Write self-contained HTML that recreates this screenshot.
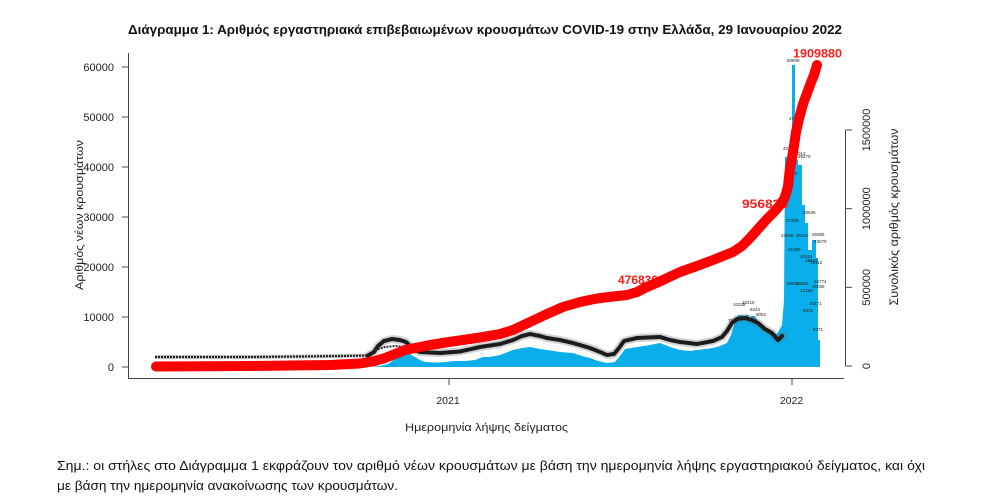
<!DOCTYPE html>
<html>
<head>
<meta charset="utf-8">
<style>
  html, body { margin: 0; padding: 0; background: #ffffff; }
  body { width: 982px; height: 504px; overflow: hidden; }
  svg { display: block; }
  text { font-family: "Liberation Sans", "DejaVu Sans", sans-serif; }
</style>
</head>
<body>
<svg width="982" height="504" viewBox="0 0 982 504" xmlns="http://www.w3.org/2000/svg">
  <rect x="0" y="0" width="982" height="504" fill="#ffffff"/>

  <!-- Title -->
  <text x="128" y="34" font-size="13" font-weight="bold" fill="#111" textLength="714" lengthAdjust="spacingAndGlyphs">Διάγραμμα 1: Αριθμός εργαστηριακά επιβεβαιωμένων κρουσμάτων COVID-19 στην Ελλάδα, 29 Ιανουαρίου 2022</text>

  <!-- Blue bars (daily new cases) -->
  <path fill="#0aaeea" d="M370,367 L380,366 L388,364 L395,359 L400,356 L405,353 L410,354 L415,357 L420,360 L425,362 L435,362.5 L445,362 L455,361 L465,361 L475,360 L483,357 L490,357 L500,355 L513,350 L522,348 L530,347 L540,349 L547,350 L560,352 L573,353 L582,356 L590,358 L598,361 L607,363 L615,362 L620,356 L625,349 L637,347 L650,345 L660,343 L670,347 L680,350 L690,351 L697,350 L705,349 L713,348 L720,346 L727,343 L731,335 L735,322 L738,315 L743,315 L744,320 L745,315 L749,315 L750,320 L751,316 L755,316 L756,318 L763,328 L770,331 L777,334 L782,325 L784,300 L785,157 L792,157 L792,65 L795,65 L795,160 L798,160 L798,165 L802,165 L802,205 L805,205 L805,223 L808,223 L808,250 L812,250 L812,240 L816,240 L816,258 L818,258 L818,340 L820,340 L820,367 Z"/>

  <!-- Black label band (daily value labels) -->
  <polyline fill="none" stroke="#666" stroke-opacity="0.35" stroke-width="4" stroke-linejoin="round" points="155,357 250,357 300,356.5 340,356 368,355.5"/>
  <polyline fill="none" stroke="#222" stroke-width="2.2" stroke-linejoin="round" stroke-dasharray="2 1" points="155,357 250,357 300,356.5 340,356 368,355.5"/>
  <polyline fill="none" stroke="#666" stroke-opacity="0.3" stroke-width="8" stroke-linejoin="round" stroke-linecap="round" points="368,355.5 374,352 378,346 384,341 392,339 400,340 406,342 410,346 414,350 420,352 440,353 460,351.5 480,347 500,344 513,340 522,336 530,334 540,336 547,338 560,340 573,343 590,348 600,352 607,355 614,354 619,348 624,341 637,338 660,337 670,340 680,342 697,344 713,341 722,337 727,331 732,323 737,319 745,318 752,320 758,323 765,329 772,333 778,340 782,336"/>
  <polyline fill="none" stroke="#1c1c1c" stroke-width="4" stroke-linejoin="round" stroke-linecap="round" stroke-dasharray="2 1" points="368,355.5 374,352 378,346 384,341 392,339 400,340 406,342 410,346 414,350 420,352 440,353 460,351.5 480,347 500,344 513,340 522,336 530,334 540,336 547,338 560,340 573,343 590,348 600,352 607,355 614,354 619,348 624,341 637,338 660,337 670,340 680,342 697,344 713,341 722,337 727,331 732,323 737,319 745,318 752,320 758,323 765,329 772,333 778,340 782,336"/>
  <polyline fill="none" stroke="#333" stroke-width="2" stroke-linejoin="round" stroke-dasharray="2 1" points="375,350 385,347 395,346 405,347 412,352"/>

  <!-- Tiny value labels (2021-2022) -->
  <g font-size="4.5" fill="#222">
    <text x="733" y="306">10338</text>
    <text x="742" y="304">10215</text>
    <text x="750" y="311">9243</text>
    <text x="756" y="316">8052</text>
    <text x="728" y="322">7865</text>
    <text x="787" y="62">60809</text>
    <text x="789" y="120">47520</text>
    <text x="783" y="150">42311</text>
    <text x="793" y="155">41013</text>
    <text x="798" y="158">39270</text>
    <text x="785" y="175">36170</text>
    <text x="786" y="222">27306</text>
    <text x="803" y="214">28635</text>
    <text x="781" y="237">24006</text>
    <text x="796" y="237">26101</text>
    <text x="812" y="236">26065</text>
    <text x="814" y="243">23070</text>
    <text x="788" y="251">21000</text>
    <text x="800" y="258">20124</text>
    <text x="805" y="262">19810</text>
    <text x="810" y="264">19112</text>
    <text x="786" y="285">15930</text>
    <text x="796" y="285">15882</text>
    <text x="800" y="292">12150</text>
    <text x="814" y="283">16774</text>
    <text x="812" y="288">15055</text>
    <text x="809" y="305">10271</text>
    <text x="803" y="312">9332</text>
    <text x="813" y="331">5371</text>
  </g>

  <!-- Red value labels -->
  <g font-size="12" font-weight="bold" fill="#ff1a1a">
    <text x="618" y="284" textLength="40" lengthAdjust="spacingAndGlyphs">476830</text>
    <text x="742" y="208" textLength="46" lengthAdjust="spacingAndGlyphs">956833</text>
    <text x="793" y="57.5" textLength="49" lengthAdjust="spacingAndGlyphs">1909880</text>
  </g>

  <!-- Red cumulative curve -->
  <polyline fill="none" stroke="#ff0000" stroke-width="10" stroke-linejoin="round" stroke-linecap="round" points="156,366.5 250,366 330,365 360,363.5 375,361 385,358 395,354 405,350 420,347 430,345 449,342 470,339 483,337 500,334 513,330 530,322 547,314 563,307 580,302 597,298.5 613,296.5 627,295 637,292 647,287 663,280 680,272 697,266 713,260 733,252 742,246 750,238 758,229 767,219 775,211 780,205 784,199 786,194 788,186 790,168 792,158 794,146 796,132 798,123 800,115 803,104 806,96 810,85 814,75 817,65"/>

  <!-- Axes -->
  <g stroke="#444" stroke-width="1" fill="none">
    <line x1="128.5" y1="53" x2="128.5" y2="378.5"/>
    <line x1="128" y1="378.5" x2="844" y2="378.5"/>
    <line x1="122" y1="67" x2="128.5" y2="67"/>
    <line x1="122" y1="117" x2="128.5" y2="117"/>
    <line x1="122" y1="167" x2="128.5" y2="167"/>
    <line x1="122" y1="217" x2="128.5" y2="217"/>
    <line x1="122" y1="267" x2="128.5" y2="267"/>
    <line x1="122" y1="317" x2="128.5" y2="317"/>
    <line x1="122" y1="367" x2="128.5" y2="367"/>
    <line x1="449" y1="378.5" x2="449" y2="385"/>
    <line x1="792" y1="378.5" x2="792" y2="385"/>
    <line x1="845.5" y1="130" x2="845.5" y2="366"/>
    <line x1="845.5" y1="130" x2="852" y2="130"/>
    <line x1="845.5" y1="208.7" x2="852" y2="208.7"/>
    <line x1="845.5" y1="287.3" x2="852" y2="287.3"/>
    <line x1="845.5" y1="366" x2="852" y2="366"/>
  </g>

  <!-- Left tick labels -->
  <g font-size="11" fill="#222" text-anchor="end">
    <text x="114" y="71">60000</text>
    <text x="114" y="121">50000</text>
    <text x="114" y="171">40000</text>
    <text x="114" y="221">30000</text>
    <text x="114" y="271">20000</text>
    <text x="114" y="321">10000</text>
    <text x="114" y="371">0</text>
  </g>

  <!-- Left axis title -->
  <text transform="translate(83,215) rotate(-90)" text-anchor="middle" font-size="11" fill="#222" textLength="150" lengthAdjust="spacingAndGlyphs">Αριθμός νέων κρουσμάτων</text>

  <!-- Right tick labels (rotated) -->
  <g font-size="11" fill="#222" text-anchor="middle">
    <text transform="translate(870,366) rotate(-90)">0</text>
    <text transform="translate(870,287.3) rotate(-90)">500000</text>
    <text transform="translate(870,208.7) rotate(-90)">1000000</text>
    <text transform="translate(870,130) rotate(-90)">1500000</text>
  </g>

  <!-- Right axis title -->
  <text transform="translate(898,217) rotate(-90)" text-anchor="middle" font-size="11.5" fill="#222" textLength="177" lengthAdjust="spacingAndGlyphs">Συνολικός αριθμός κρουσμάτων</text>

  <!-- X tick labels -->
  <g font-size="10.5" fill="#222" text-anchor="middle">
    <text x="448" y="404">2021</text>
    <text x="791.5" y="404">2022</text>
  </g>

  <!-- X axis title -->
  <text x="405" y="431" font-size="11" fill="#222" textLength="163" lengthAdjust="spacingAndGlyphs">Ημερομηνία λήψης δείγματος</text>

  <!-- Footnote -->
  <text x="57" y="470" font-size="13" fill="#111" textLength="868" lengthAdjust="spacingAndGlyphs">Σημ.:  οι στήλες στο Διάγραμμα 1 εκφράζουν τον αριθμό νέων κρουσμάτων με βάση την ημερομηνία λήψης εργαστηριακού δείγματος, και όχι</text>
  <text x="57" y="490" font-size="13" fill="#111" textLength="341" lengthAdjust="spacingAndGlyphs">με βάση την ημερομηνία ανακοίνωσης των κρουσμάτων.</text>
</svg>
</body>
</html>
